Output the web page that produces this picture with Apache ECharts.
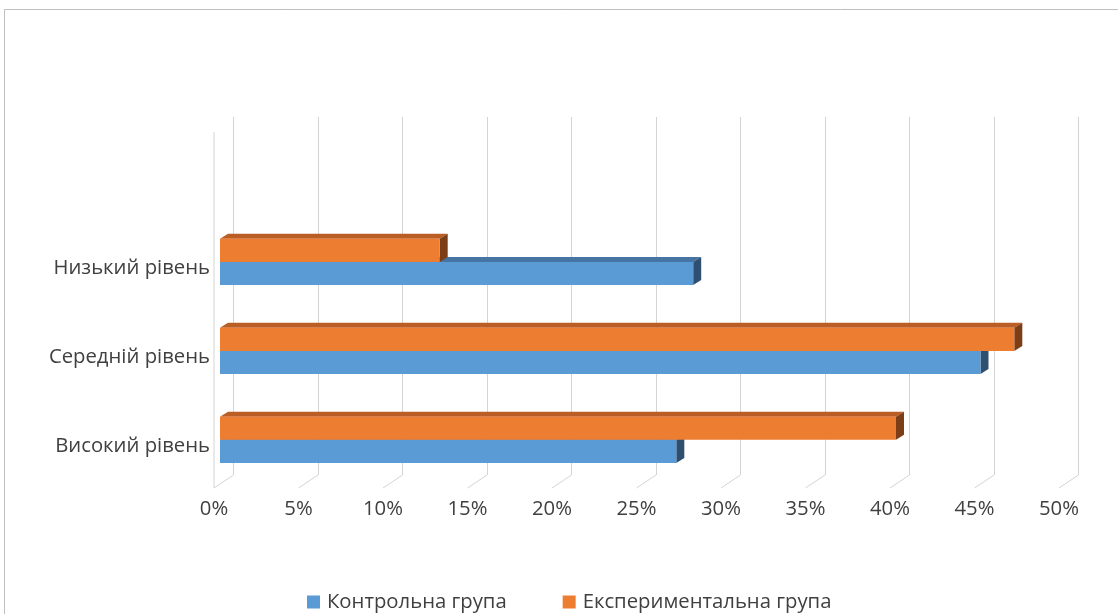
<!DOCTYPE html>
<html><head><meta charset="utf-8">
<script src="https://cdn.jsdelivr.net/npm/echarts@6/dist/echarts.min.js"></script>
<style>html,body{margin:0;padding:0;background:#fff}#c{width:1118px;height:614px}</style>
</head><body><div id="c"></div>
<script>
const categories = ['Високий рівень', 'Середній рівень', 'Низький рівень'];
const seriesNames = ['Контрольна група', 'Експериментальна група'];
const controlValues = [0.27, 0.45, 0.28];
const experimentalValues = [0.40, 0.47, 0.13];
const tickValues = [0, 0.05, 0.10, 0.15, 0.20, 0.25, 0.30, 0.35, 0.40, 0.45, 0.50];

const FONT = '"Open Sans", sans-serif';
const FS = 20.3;
const TXT = '#404040';
const GRID = '#d4d4d4';
const DX = 8, DY = 5;      // bar depth
const WDX = -19.5, WDY = 13; // wall-to-floor depth

const palettes = [
  {front: '#5b9bd5', top: '#4675a3', side: '#2f4f70'},
  {front: '#ed7d31', top: '#bb5e26', side: '#7b3e16'}
];

function barRenderer(k) {
  const pal = palettes[k];
  return function (params, api) {
    const val = api.value(0), cat = api.value(1);
    const p0 = api.coord([0, cat]);
    const p1 = api.coord([val, cat]);
    const band = api.size([0, 1])[1];
    const h = band * 0.26;
    const yT = k === 0 ? p0[1] : p0[1] - h;
    const x0 = p0[0], x1 = p1[0];
    return {
      type: 'group',
      children: [
        {type: 'polygon', shape: {points: [[x0, yT], [x0 + DX, yT - DY], [x1 + DX, yT - DY], [x1, yT]]}, style: {fill: pal.top}},
        {type: 'polygon', shape: {points: [[x1, yT], [x1 + DX, yT - DY], [x1 + DX, yT + h - DY], [x1, yT + h]]}, style: {fill: pal.side}},
        {type: 'rect', shape: {x: x0, y: yT, width: x1 - x0, height: h}, style: {fill: pal.front}}
      ]
    };
  };
}

function floorRenderer(params, api) {
  const v = api.value(0);
  const pb = api.coord([v, 0]);
  const pt = api.coord([v, 1]);
  const children = [
    {type: 'line', shape: {x1: pb[0], y1: pb[1], x2: pb[0] + WDX, y2: pb[1] + WDY}, style: {stroke: GRID, lineWidth: 1}}
  ];
  if (v === 0) {
    children.push({type: 'line', shape: {x1: pb[0] + WDX, y1: pt[1] + 15, x2: pb[0] + WDX, y2: pb[1] + WDY}, style: {stroke: GRID, lineWidth: 1}});
  }
  return {type: 'group', children: children};
}

const chart = echarts.init(document.getElementById('c'), null, {renderer: 'canvas'});
chart.setOption({
  animation: false,
  backgroundColor: '#fff',
  textStyle: {fontFamily: FONT},
  graphic: [{
    type: 'rect', shape: {x: 4.5, y: 9.5, width: 1200, height: 700},
    style: {fill: null, stroke: '#bfbfbf', lineWidth: 1}, silent: true, z: -10
  }],
  legend: {
    left: 307, top: 592, padding: 0,
    itemWidth: 13, itemHeight: 13, itemGap: 56, icon: 'rect',
    textStyle: {fontFamily: FONT, fontSize: FS, color: TXT, padding: [0, 0, 0, 2]},
    data: seriesNames
  },
  grid: [
    {left: 220, right: 53, top: 217.5, bottom: 129.7},
    {left: 233.5, right: 39.5, top: 117, bottom: 139},
    {left: 214, right: 59, top: 487, bottom: 126},
    {left: 220, right: 53, top: 224, bottom: 123}
  ],
  xAxis: [
    {gridIndex: 0, type: 'value', min: 0, max: 0.5, show: false},
    {gridIndex: 1, type: 'value', min: 0, max: 0.5, interval: 0.05,
      axisLine: {show: false}, axisTick: {show: false}, axisLabel: {show: false},
      splitLine: {show: true, lineStyle: {color: GRID, width: 1}}},
    {gridIndex: 2, type: 'value', min: 0, max: 0.5, interval: 0.05,
      axisLine: {show: false}, axisTick: {show: false}, splitLine: {show: false},
      axisLabel: {margin: 11, fontFamily: FONT, fontSize: FS, color: TXT,
        formatter: v => Math.round(v * 100) + '%'}},
    {gridIndex: 3, type: 'value', min: 0, max: 0.5, show: false}
  ],
  yAxis: [
    {gridIndex: 0, type: 'category', data: categories, show: false},
    {gridIndex: 1, type: 'value', min: 0, max: 1, show: false},
    {gridIndex: 2, type: 'value', min: 0, max: 1, show: false},
    {gridIndex: 3, type: 'category', data: categories,
      axisLine: {show: false}, axisTick: {show: false}, splitLine: {show: false},
      axisLabel: {margin: 10, fontFamily: FONT, fontSize: FS, color: TXT}}
  ],
  series: [
    {type: 'custom', name: 'floor', xAxisIndex: 1, yAxisIndex: 1, z: 1, silent: true,
      renderItem: floorRenderer, data: tickValues.map(v => [v]), encode: {x: 0}},
    {type: 'custom', name: seriesNames[0], xAxisIndex: 0, yAxisIndex: 0, z: 3,
      itemStyle: {color: palettes[0].front},
      renderItem: barRenderer(0), encode: {x: 0, y: 1},
      data: controlValues.map((v, i) => [v, i])},
    {type: 'custom', name: seriesNames[1], xAxisIndex: 0, yAxisIndex: 0, z: 4,
      itemStyle: {color: palettes[1].front},
      renderItem: barRenderer(1), encode: {x: 0, y: 1},
      data: experimentalValues.map((v, i) => [v, i])}
  ]
});
</script></body></html>
